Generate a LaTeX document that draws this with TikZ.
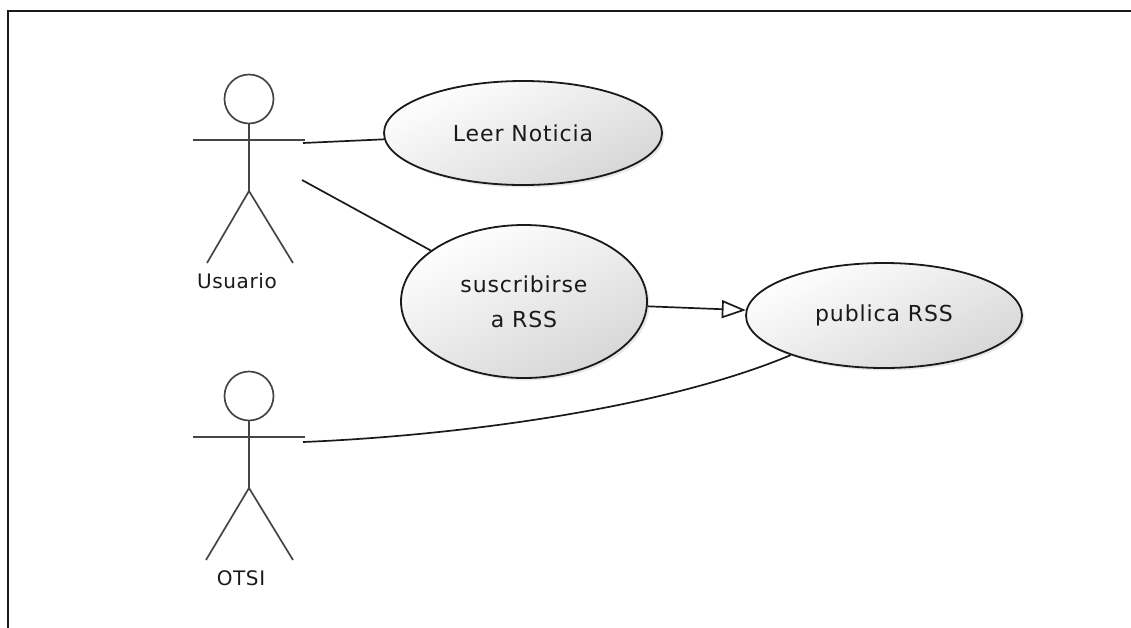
\documentclass[tikz,border=0pt]{standalone}
\usepackage{fontspec}
\setmainfont{DejaVu Sans}
\usetikzlibrary{arrows.meta,shapes.geometric,shadows}
\definecolor{ink}{HTML}{1A1A1A}
\definecolor{actorink}{HTML}{454545}
\tikzset{
  uc/.style={ellipse, draw=ink, line width=1.8pt, inner sep=0pt,
    top color=white, bottom color=black!16, shading angle=25,
    drop shadow={opacity=0.18, shadow xshift=2.5pt, shadow yshift=-2.5pt},
    font=\fontsize{22}{35}\selectfont\addfontfeature{LetterSpace=4}, text=ink, align=center},
  actorline/.style={draw=actorink, line width=1.7pt},
  actorlabel/.style={font=\fontsize{20}{22}\selectfont\addfontfeature{LetterSpace=3}, text=ink, inner sep=0pt},
  assoc/.style={draw=ink, line width=1.7pt},
  gen/.style={draw=ink, line width=1.7pt, -{Triangle[open, length=24pt, width=18pt, line width=1.7pt, fill=white]}},
  frameline/.style={draw=ink, line width=2.2pt}
}
\begin{document}
\begin{tikzpicture}[x=1pt, y=-1pt]
\useasboundingbox (0,0) rectangle (1131,627);
% frame (top and left edges only)
\draw[frameline] (8,640) -- (8,11) -- (1140,11);

% actor Usuario
\coordinate (usrC) at (249,140);
\draw[actorline] (249,99) circle[radius=24.5];
\draw[actorline] (249,123.5) -- (249,191) coordinate (usrHip);
\draw[actorline] (193,140) -- (305,140);
\draw[actorline] (207,263) -- (usrHip) -- (293,263);
\node[actorlabel] (usrLbl) at (237,281.5) {Usuario};
\coordinate (usrA) at (303,143);
\coordinate (usrB) at (302,180);

% actor OTSI
\coordinate (otsiC) at (249,437);
\draw[actorline] (249,396) circle[radius=24.5];
\draw[actorline] (249,420.5) -- (249,488) coordinate (otsiHip);
\draw[actorline] (193,437) -- (305,437);
\draw[actorline] (206,560) -- (otsiHip) -- (293,560);
\node[actorlabel] (otsiLbl) at (241,578) {OTSI};
\coordinate (otsiA) at (303,442);

% use cases
\node[uc, minimum width=278pt, minimum height=104pt] (leer) at (523,133) {Leer Noticia};
\node[uc, minimum width=246pt, minimum height=153pt] (subs) at (524,301.5) {suscribirse\\a RSS};
\node[uc, minimum width=276pt, minimum height=105pt] (pub) at (884,315.5) {publica RSS};

% connectors
\draw[assoc] (usrA) -- (leer);
\draw[assoc] (usrB) -- (subs);
\draw[gen] (subs) -- (pub);
\draw[assoc] (otsiA) .. controls (450,436) and (660,410) .. (pub.203);
\end{tikzpicture}
\end{document}
